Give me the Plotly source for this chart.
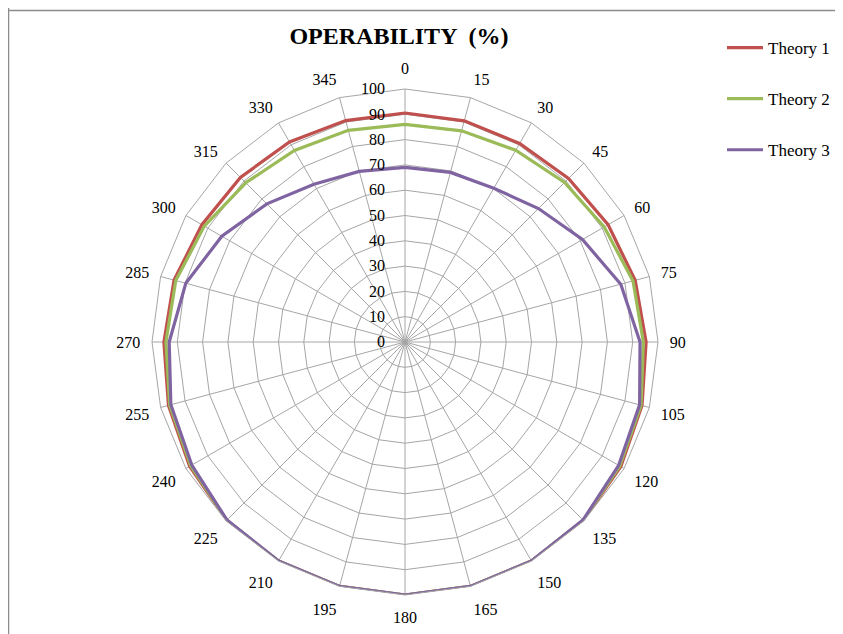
import plotly.graph_objects as go

angles = ["0", "15", "30", "45", "60", "75", "90", "105", "120", "135", "150", "165",
          "180", "195", "210", "225", "240", "255", "270", "285", "300", "315", "330", "345"]
theory1 = [90.5, 90.5, 90.6, 91.4, 92.7, 94.2, 95.3, 97.0, 98.5, 99.7, 100, 100,
           100, 100, 100, 99.7, 98.3, 96.8, 95.3, 94.5, 92.7, 92.0, 91.3, 90.6]
theory2 = [86.0, 86.4, 87.5, 89.2, 90.9, 93.3, 94.2, 96.6, 98.0, 99.6, 100, 100,
           100, 100, 100, 99.6, 97.8, 96.3, 94.5, 93.8, 91.6, 89.0, 87.4, 86.6]
theory3 = [69.0, 69.4, 70.2, 74.6, 81.0, 88.3, 92.9, 96.0, 97.5, 99.5, 100, 100,
           100, 100, 100, 99.5, 97.3, 95.8, 93.2, 89.7, 83.6, 77.2, 72.0, 69.8]
series_names = ["Theory 1", "Theory 2", "Theory 3"]
colors = ["#C0504D", "#9BBB59", "#8064A2"]
radial_ticks = list(range(0, 101, 10))

fig = go.Figure()
for name, vals, col in zip(series_names, [theory1, theory2, theory3], colors):
    fig.add_trace(go.Scatterpolar(
        r=vals + vals[:1], theta=angles + angles[:1], mode="lines", name=name,
        legendgroup=name, line=dict(color=col, width=3.2)))

W, H = 843, 634
OFF = 8  # page body margin offset
cx, cy, R = 405 - OFF, 342 - OFF, 253
font_family = "Liberation Serif, Times New Roman, serif"
fig.update_layout(
    width=W, height=H,
    margin=dict(l=0, r=0, t=0, b=0),
    paper_bgcolor="white", plot_bgcolor="white",
    font=dict(family=font_family, size=16, color="black"),
    title=dict(text="<b>OPERABILITY  (%)</b>", x=(399 - OFF) / W, xanchor="center",
               y=1 - (36 - OFF) / H, yanchor="middle",
               font=dict(family=font_family, size=24, color="black")),
    polar=dict(
        domain=dict(x=[(cx - R) / W, (cx + R) / W], y=[(H - cy - R) / H, (H - cy + R) / H]),
        gridshape="linear",
        bgcolor="white",
        angularaxis=dict(
            type="category", categoryarray=angles, direction="clockwise", rotation=90,
            showline=True, linecolor="#A6A6A6", linewidth=1,
            gridcolor="#A6A6A6", gridwidth=1,
            ticks="outside", ticklen=8, tickcolor="rgba(0,0,0,0)",
            tickfont=dict(family=font_family, size=16, color="black")),
        radialaxis=dict(
            range=[0, 100], tickvals=radial_ticks, angle=90, tickangle=90,
            side="counterclockwise",
            showline=False, gridcolor="#A6A6A6", gridwidth=1,
            ticks="outside", ticklen=14, tickcolor="rgba(0,0,0,0)",
            tickfont=dict(family=font_family, size=16, color="black")),
    ),
    legend=dict(x=(722 - OFF) / W, y=1 - (30 - OFF) / H, xanchor="left", yanchor="top",
                tracegroupgap=26, itemwidth=36,
                font=dict(family=font_family, size=17, color="black"),
                bgcolor="rgba(0,0,0,0)"),
    shapes=[
        dict(type="line", xref="paper", yref="paper", x0=0, x1=1,
             y0=1 - (10.5 - OFF) / H, y1=1 - (10.5 - OFF) / H, line=dict(color="#8C8C8C", width=1.5)),
        dict(type="line", xref="paper", yref="paper", x0=0.5 / W, x1=0.5 / W,
             y0=1, y1=0, line=dict(color="#8C8C8C", width=1.5)),
    ],
)
fig.write_html("out.html")
